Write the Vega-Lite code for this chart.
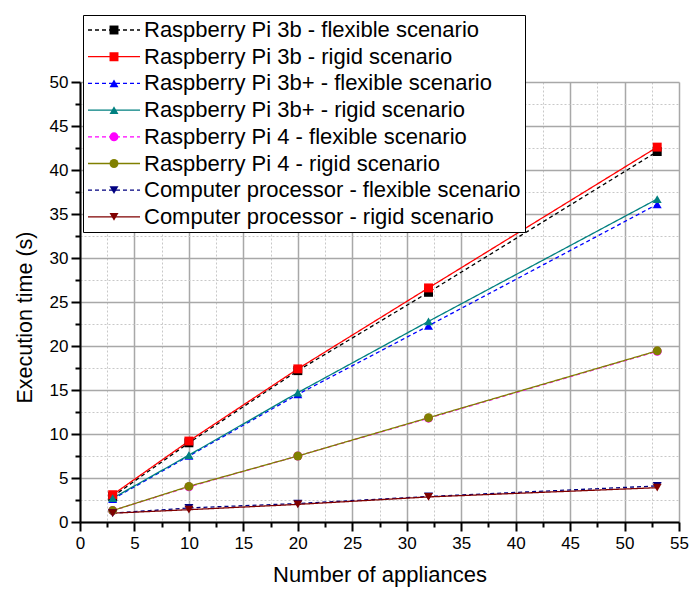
{
  "$schema": "https://vega.github.io/schema/vega-lite/v6.json",
  "width": 599,
  "height": 440,
  "autosize": "none",
  "padding": {"left": 80, "top": 82, "right": 10, "bottom": 70},
  "background": "white",
  "config": {
    "view": {"stroke": null},
    "font": "Liberation Sans"
  },
  "data": {
    "values": [
      {"series": "Raspberry Pi 3b - flexible scenario", "x": 3, "y": 2.9},
      {"series": "Raspberry Pi 3b - flexible scenario", "x": 10, "y": 9.0},
      {"series": "Raspberry Pi 3b - flexible scenario", "x": 20, "y": 17.2},
      {"series": "Raspberry Pi 3b - flexible scenario", "x": 32, "y": 26.1},
      {"series": "Raspberry Pi 3b - flexible scenario", "x": 53, "y": 42.1},
      {"series": "Raspberry Pi 3b - rigid scenario", "x": 3, "y": 3.1},
      {"series": "Raspberry Pi 3b - rigid scenario", "x": 10, "y": 9.2},
      {"series": "Raspberry Pi 3b - rigid scenario", "x": 20, "y": 17.4},
      {"series": "Raspberry Pi 3b - rigid scenario", "x": 32, "y": 26.6},
      {"series": "Raspberry Pi 3b - rigid scenario", "x": 53, "y": 42.6},
      {"series": "Raspberry Pi 3b+ - flexible scenario", "x": 3, "y": 2.6},
      {"series": "Raspberry Pi 3b+ - flexible scenario", "x": 10, "y": 7.5},
      {"series": "Raspberry Pi 3b+ - flexible scenario", "x": 20, "y": 14.5},
      {"series": "Raspberry Pi 3b+ - flexible scenario", "x": 32, "y": 22.3},
      {"series": "Raspberry Pi 3b+ - flexible scenario", "x": 53, "y": 36.1},
      {"series": "Raspberry Pi 3b+ - rigid scenario", "x": 3, "y": 2.7},
      {"series": "Raspberry Pi 3b+ - rigid scenario", "x": 10, "y": 7.6},
      {"series": "Raspberry Pi 3b+ - rigid scenario", "x": 20, "y": 14.7},
      {"series": "Raspberry Pi 3b+ - rigid scenario", "x": 32, "y": 22.8},
      {"series": "Raspberry Pi 3b+ - rigid scenario", "x": 53, "y": 36.7},
      {"series": "Raspberry Pi 4 - flexible scenario", "x": 3, "y": 1.3},
      {"series": "Raspberry Pi 4 - flexible scenario", "x": 10, "y": 4.0},
      {"series": "Raspberry Pi 4 - flexible scenario", "x": 20, "y": 7.5},
      {"series": "Raspberry Pi 4 - flexible scenario", "x": 32, "y": 11.8},
      {"series": "Raspberry Pi 4 - flexible scenario", "x": 53, "y": 19.4},
      {"series": "Raspberry Pi 4 - rigid scenario", "x": 3, "y": 1.3},
      {"series": "Raspberry Pi 4 - rigid scenario", "x": 10, "y": 4.05},
      {"series": "Raspberry Pi 4 - rigid scenario", "x": 20, "y": 7.5},
      {"series": "Raspberry Pi 4 - rigid scenario", "x": 32, "y": 11.85},
      {"series": "Raspberry Pi 4 - rigid scenario", "x": 53, "y": 19.45},
      {"series": "Computer processor - flexible scenario", "x": 3, "y": 1.0},
      {"series": "Computer processor - flexible scenario", "x": 10, "y": 1.6},
      {"series": "Computer processor - flexible scenario", "x": 20, "y": 2.1},
      {"series": "Computer processor - flexible scenario", "x": 32, "y": 2.9},
      {"series": "Computer processor - flexible scenario", "x": 53, "y": 4.1},
      {"series": "Computer processor - rigid scenario", "x": 3, "y": 1.0},
      {"series": "Computer processor - rigid scenario", "x": 10, "y": 1.4},
      {"series": "Computer processor - rigid scenario", "x": 20, "y": 2.0},
      {"series": "Computer processor - rigid scenario", "x": 32, "y": 2.85},
      {"series": "Computer processor - rigid scenario", "x": 53, "y": 3.9}
    ]
  },
  "transform": [{"calculate": "datum.series + ' *'", "as": "s2"}],
  "encoding": {
    "x": {
      "field": "x", "type": "quantitative",
      "scale": {"domain": [0, 55], "nice": false, "zero": false},
      "axis": {
        "title": "Number of appliances",
        "titleFontSize": 22, "titleFontWeight": "normal", "titleColor": "black", "titlePadding": 13,
        "values": [0,2.5,5,7.5,10,12.5,15,17.5,20,22.5,25,27.5,30,32.5,35,37.5,40,42.5,45,47.5,50,52.5,55],
        "labelExpr": "datum.value % 5 === 0 ? datum.label : ''",
        "labelFontSize": 17, "labelColor": "black", "labelPadding": 4, "labelFlush": false, "labelOverlap": false,
        "domainColor": "black", "domainWidth": 2,
        "tickColor": "black", "tickWidth": 2,
        "tickSize": {"condition": {"test": "datum.value % 5 === 0", "value": 9}, "value": 5},
        "grid": true,
        "gridColor": {"condition": {"test": "datum.value % 5 === 0", "value": "#a8a8a8"}, "value": "#c8c8c8"},
        "gridDash": {"condition": {"test": "datum.value % 5 === 0", "value": []}, "value": [2, 2]},
        "gridWidth": {"condition": {"test": "datum.value % 5 === 0", "value": 1.5}, "value": 1}
      }
    },
    "y": {
      "field": "y", "type": "quantitative",
      "scale": {"domain": [0, 50], "nice": false, "zero": false},
      "axis": {
        "title": "Execution time (s)",
        "titleFontSize": 21.5, "titleFontWeight": "normal", "titleColor": "black", "titlePadding": 13,
        "titleY": 235,
        "values": [0,2.5,5,7.5,10,12.5,15,17.5,20,22.5,25,27.5,30,32.5,35,37.5,40,42.5,45,47.5,50],
        "labelExpr": "datum.value % 5 === 0 ? datum.label : ''",
        "labelFontSize": 17, "labelColor": "black", "labelPadding": 3, "labelFlush": false, "labelOverlap": false,
        "domainColor": "black", "domainWidth": 2,
        "tickColor": "black", "tickWidth": 2,
        "tickSize": {"condition": {"test": "datum.value % 5 === 0", "value": 9}, "value": 5},
        "grid": true,
        "gridColor": {"condition": {"test": "datum.value % 5 === 0", "value": "#a8a8a8"}, "value": "#c8c8c8"},
        "gridDash": {"condition": {"test": "datum.value % 5 === 0", "value": []}, "value": [2, 2]},
        "gridWidth": {"condition": {"test": "datum.value % 5 === 0", "value": 1.5}, "value": 1}
      }
    }
  },
  "layer": [
    {
      "mark": {"type": "line", "strokeWidth": 1.3},
      "encoding": {
        "color": {
          "field": "series", "type": "nominal",
          "scale": {
            "domain": ["Raspberry Pi 3b - flexible scenario", "Raspberry Pi 3b - rigid scenario", "Raspberry Pi 3b+ - flexible scenario", "Raspberry Pi 3b+ - rigid scenario", "Raspberry Pi 4 - flexible scenario", "Raspberry Pi 4 - rigid scenario", "Computer processor - flexible scenario", "Computer processor - rigid scenario"],
            "range": ["#000000", "#ff0000", "#0000ff", "#008080", "#ff00ff", "#808000", "#000080", "#800000"]
          },
          "legend": {
            "title": null, "orient": "none", "legendX": 3, "legendY": -67,
            "fillColor": "white", "strokeColor": "black", "padding": 4,
            "symbolType": "stroke", "symbolSize": 2704, "symbolStrokeWidth": 1.3,
            "clipHeight": 22, "rowPadding": 4.7, "labelOffset": 3,
            "labelFontSize": 22, "labelColor": "black", "labelLimit": 600, "zindex": 1
          }
        },
        "strokeDash": {
          "field": "series", "type": "nominal",
          "scale": {
            "domain": ["Raspberry Pi 3b - flexible scenario", "Raspberry Pi 3b - rigid scenario", "Raspberry Pi 3b+ - flexible scenario", "Raspberry Pi 3b+ - rigid scenario", "Raspberry Pi 4 - flexible scenario", "Raspberry Pi 4 - rigid scenario", "Computer processor - flexible scenario", "Computer processor - rigid scenario"],
            "range": [[4, 3], [1, 0], [4, 3], [1, 0], [4, 3], [1, 0], [4, 3], [1, 0]]
          },
          "legend": {
            "title": null, "orient": "none", "legendX": 3, "legendY": -67,
            "fillColor": "white", "strokeColor": "black", "padding": 4,
            "symbolType": "stroke", "symbolSize": 2704, "symbolStrokeWidth": 1.3,
            "clipHeight": 22, "rowPadding": 4.7, "labelOffset": 3,
            "labelFontSize": 22, "labelColor": "black", "labelLimit": 600, "zindex": 1
          }
        }
      }
    },
    {
      "mark": {"type": "point", "filled": true, "opacity": 1},
      "encoding": {
        "fill": {
          "field": "s2", "type": "nominal",
          "scale": {
            "domain": ["Raspberry Pi 3b - flexible scenario *", "Raspberry Pi 3b - rigid scenario *", "Raspberry Pi 3b+ - flexible scenario *", "Raspberry Pi 3b+ - rigid scenario *", "Raspberry Pi 4 - flexible scenario *", "Raspberry Pi 4 - rigid scenario *", "Computer processor - flexible scenario *", "Computer processor - rigid scenario *"],
            "range": ["#000000", "#ff0000", "#0000ff", "#008080", "#ff00ff", "#808000", "#000080", "#800000"]
          },
          "legend": {
            "title": null, "orient": "none", "legendX": 19, "legendY": -67,
            "padding": 4, "symbolSize": 80, "symbolOpacity": 1,
            "clipHeight": 22, "rowPadding": 4.7, "labelOffset": 3,
            "labelFontSize": 22, "labelExpr": "''", "labelLimit": 600, "zindex": 2
          }
        },
        "shape": {
          "field": "s2", "type": "nominal",
          "scale": {
            "domain": ["Raspberry Pi 3b - flexible scenario *", "Raspberry Pi 3b - rigid scenario *", "Raspberry Pi 3b+ - flexible scenario *", "Raspberry Pi 3b+ - rigid scenario *", "Raspberry Pi 4 - flexible scenario *", "Raspberry Pi 4 - rigid scenario *", "Computer processor - flexible scenario *", "Computer processor - rigid scenario *"],
            "range": ["square", "square", "triangle-up", "triangle-up", "circle", "circle", "triangle-down", "triangle-down"]
          },
          "legend": {
            "title": null, "orient": "none", "legendX": 19, "legendY": -67,
            "padding": 4, "symbolSize": 80, "symbolOpacity": 1,
            "clipHeight": 22, "rowPadding": 4.7, "labelOffset": 3,
            "labelFontSize": 22, "labelExpr": "''", "labelLimit": 600, "zindex": 2
          }
        },
        "size": {"value": 80}
      }
    }
  ]
}
